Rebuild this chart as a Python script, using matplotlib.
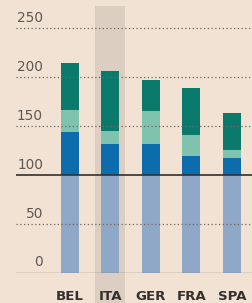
import matplotlib
matplotlib.use("Agg")
import matplotlib.pyplot as plt
import numpy as np

categories = ["BEL", "ITA", "GER", "FRA", "SPA"]
base = [100, 100, 100, 100, 100]
blue = [43.5, 31, 31, 19, 17.5]
light_teal = [23, 14, 34, 21.5, 7.5]
dark_teal = [47.5, 61.5, 32, 48.5, 38]
yticks = [0, 50, 100, 150, 200, 250]
highlight = "ITA"

BG = "#f2e2d3"
C_BASE = "#8fa8c8"
C_BLUE = "#0d6cab"
C_LT = "#7fc2ad"
C_DT = "#0b7a6d"

fig = plt.figure(figsize=(2.53, 3.03), dpi=100, facecolor=BG)
ax = fig.add_axes([16/253, 1 - 272.7/303, 1 - 16/253, (272.7 - 6)/303])
ax.set_facecolor(BG)

x = np.arange(len(categories))
w = 0.445
ymax = 272.5
ax.set_xlim(-1.333, 4.52)
ax.set_ylim(0, ymax)

hi = categories.index(highlight)
ax.axvspan(hi - 0.37, hi + 0.37, ymin=-0.115, ymax=1, color="#dccfc2",
           zorder=0, clip_on=False, lw=0)

b0 = np.array(base, float)
b1 = b0 + np.array(blue)
b2 = b1 + np.array(light_teal)
ax.bar(x, base, w, color=C_BASE, zorder=2)
ax.bar(x, blue, w, bottom=b0, color=C_BLUE, zorder=2)
ax.bar(x, light_teal, w, bottom=b1, color=C_LT, zorder=2)
ax.bar(x, dark_teal, w, bottom=b2, color=C_DT, zorder=2)

for v in yticks:
    if v == 100:
        ax.axhline(v, color="#33302e", lw=1.2, zorder=4)
    elif v == 0:
        ax.axhline(v, color="#8a8078", lw=1.0, zorder=4)
    else:
        ax.axhline(v, color="#6e6660", lw=0.9, ls=(0, (1, 2)), zorder=3)
    ax.annotate(str(v), xy=(-0.667, v), xytext=(0, 4.5), textcoords="offset points",
                ha="right", va="baseline", fontsize=9.8, color="#5e5853",
                family="DejaVu Sans")

for i, c in enumerate(categories):
    ax.annotate(c, xy=(i, 0), xytext=(0, -19.6), textcoords="offset points",
                ha="center", va="baseline", fontsize=9.6, fontweight="bold",
                color="#33302e", family="DejaVu Sans", annotation_clip=False)

ax.set_xticks([])
ax.set_yticks([])
for s in ax.spines.values():
    s.set_visible(False)

fig.savefig("out.png", dpi=100, facecolor=BG)
